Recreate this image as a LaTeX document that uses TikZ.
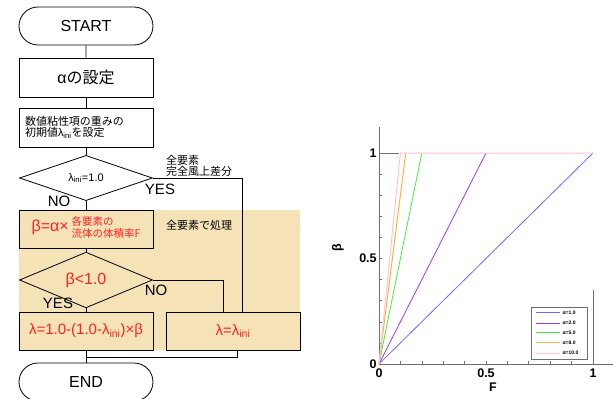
\documentclass[tikz,border=0pt]{standalone}
\usepackage{fontspec}
\setmainfont{Liberation Sans}
\newfontfamily\jp{Noto Sans CJK JP}
\usetikzlibrary{shapes.geometric,shapes.misc}
\definecolor{tan}{HTML}{F5E2B6}
\definecolor{redtxt}{HTML}{FF2222}
\definecolor{axgray}{HTML}{707070}
\definecolor{cA}{HTML}{6A6AFF}
\definecolor{cB}{HTML}{9A3AF0}
\definecolor{cC}{HTML}{40EE40}
\definecolor{cD}{HTML}{FFB048}
\definecolor{cE}{HTML}{FFC6D0}
\newcommand{\fs}[1]{\fontsize{#1}{#1}\selectfont}
\tikzset{
  flow/.style={line width=0.8pt, draw=black},
  term/.style={rounded rectangle, draw, line width=0.8pt, minimum width=134pt, minimum height=38pt, inner sep=0pt, font=\fs{16}},
  proc/.style={rectangle, draw, line width=0.8pt, minimum width=134pt, minimum height=39pt, inner sep=0pt},
  dec/.style={diamond, draw, line width=0.8pt, minimum width=133pt, minimum height=38pt, inner sep=0pt},
  lbl/.style={inner sep=0pt, font=\fs{15}},
  note/.style={inner sep=0pt, font=\jp\fs{11}, align=left, anchor=west},
  ticklbl/.style={inner sep=0pt, font=\bfseries\fs{12.5}},
  leglbl/.style={inner sep=0pt, font=\bfseries\fs{5}, anchor=west},
  legline/.style={line width=1pt},
}
\begin{document}
\begin{tikzpicture}[x=1pt, y=-1pt]
\useasboundingbox (0,0) rectangle (614,399);
\begin{scope}
\clip (0,0) rectangle (614,399);
% shaded region
\fill[tan] (19,210) rectangle (300,350);
% flowchart nodes
\node[term] (start) at (86,26) {START};
\node[proc, font=\fs{16}] (alpha) at (86,77.5) {α{\jp の設定}};
\node[proc, font=\fs{11}, align=left, text width=122pt] (init) at (86,127.5) {{\jp 数値粘性項の重みの}\\{\jp 初期値}λ\textsubscript{ini}{\jp を設定}};
\node[dec, font=\fs{11}] (d1) at (86,178) {λ\textsubscript{ini}=1.0};
\node[proc, fill=tan, minimum height=38pt, text=redtxt, font=\fs{16}] (beta) at (86,229) {β=α×\,{\jp\fs{10.5}\begin{tabular}[c]{@{}l@{}}各要素の\\流体の体積率F\end{tabular}}};
\node[dec, text=redtxt, font=\fs{16}] (d2) at (86,280) {β<1.0};
\node[proc, fill=tan, minimum height=38pt, text=redtxt, font=\fs{15}] (lam) at (86,331) {λ=1.0-(1.0-λ\textsubscript{ini})×β};
\node[proc, fill=tan, minimum height=38pt, text=redtxt, font=\fs{15}] (lamini) at (233,331) {λ=λ\textsubscript{ini}};
\node[term] (end) at (86,382) {END};
% connectors
\draw[flow] (start) -- (alpha);
\draw[flow] (alpha) -- (init);
\draw[flow] (init) -- (d1);
\draw[flow] (d1) -- (beta);
\draw[flow] (beta) -- (d2);
\draw[flow] (d2) -- (lam);
\draw[flow] (lam) -- (end);
\draw[flow] (d1.east) -| ([xshift=9pt]lamini.north);
\draw[flow] (d2.east) -| ([xshift=-10pt]lamini.north);
\draw[flow] (lam.south) -- ++(0,7) -| ([xshift=4pt]lamini.south);
% labels
\node[note] (n1) at (166,166) {全要素\\完全風上差分};
\node[note] (n2) at (166,225) {全要素で処理};
\node[lbl] (yes1) at (160,189) {YES};
\node[lbl] (no1) at (59,201) {NO};
\node[lbl] (no2) at (156,290) {NO};
\node[lbl] (yes2) at (58,303) {YES};
\end{scope}
% plot
\begin{scope}[shift={(379,364)}, x=214pt, y=211pt]
\coordinate (O) at (0,0);
\coordinate (xe) at (1.093,0);
\coordinate (ye) at (0,1.123);
\draw[axgray, line width=1pt] (O) -- (xe);
\draw[axgray, line width=1pt] (O) -- (ye);
\foreach \t in {0.1,0.2,...,1.01} {
  \draw[axgray, line width=0.6pt] (\t,0) -- (\t,0.014);
  \draw[axgray, line width=0.6pt] (0,\t) -- (0.014,\t);
}
\draw[axgray, line width=1pt] (0,1) -- (0.095,1);
\draw[axgray, line width=1pt] (1,0) -- (1,0.35);
% curves
\draw[cA, line width=0.8pt] (O) -- (1,1);
\draw[cB, line width=0.8pt] (O) -- (0.5,1);
\draw[cC, line width=0.8pt] (O) -- (0.2,1);
\draw[cD, line width=1pt] (O) -- (0.125,1);
\draw[cE, line width=1pt] (O) -- (0.1,1) -- (1,1);
% tick labels
\node[ticklbl, anchor=east] (y0) at (-0.01,0) {0};
\node[ticklbl, anchor=east] (y5) at (-0.01,0.5) {0.5};
\node[ticklbl, anchor=east] (y1) at (-0.01,1) {1};
\node[ticklbl, anchor=north] (x0) at (0,-0.02) {0};
\node[ticklbl, anchor=north] (x5) at (0.5,-0.02) {0.5};
\node[ticklbl, anchor=north] (x1) at (1,-0.02) {1};
\node[ticklbl] (xl) at (0.533,-0.108) {F};
\node[ticklbl, rotate=90] (yl) at (-0.192,0.55) {β};
% legend
\draw[axgray, line width=0.8pt, fill=white] (0.710,0.270) rectangle (0.972,0.024);
\draw[legline, draw=cA] (0.734,0.242) -- (0.846,0.242);
\draw[legline, draw=cB] (0.734,0.194) -- (0.846,0.194);
\draw[legline, draw=cC] (0.734,0.147) -- (0.846,0.147);
\draw[legline, draw=cD] (0.734,0.100) -- (0.846,0.100);
\draw[legline, draw=cE] (0.734,0.052) -- (0.846,0.052);
\node[leglbl] (l1) at (0.857,0.242) {α=1.0};
\node[leglbl] (l2) at (0.857,0.194) {α=2.0};
\node[leglbl] (l3) at (0.857,0.147) {α=5.0};
\node[leglbl] (l4) at (0.857,0.100) {α=8.0};
\node[leglbl] (l5) at (0.857,0.052) {α=10.0};
\end{scope}
\end{tikzpicture}
\end{document}
